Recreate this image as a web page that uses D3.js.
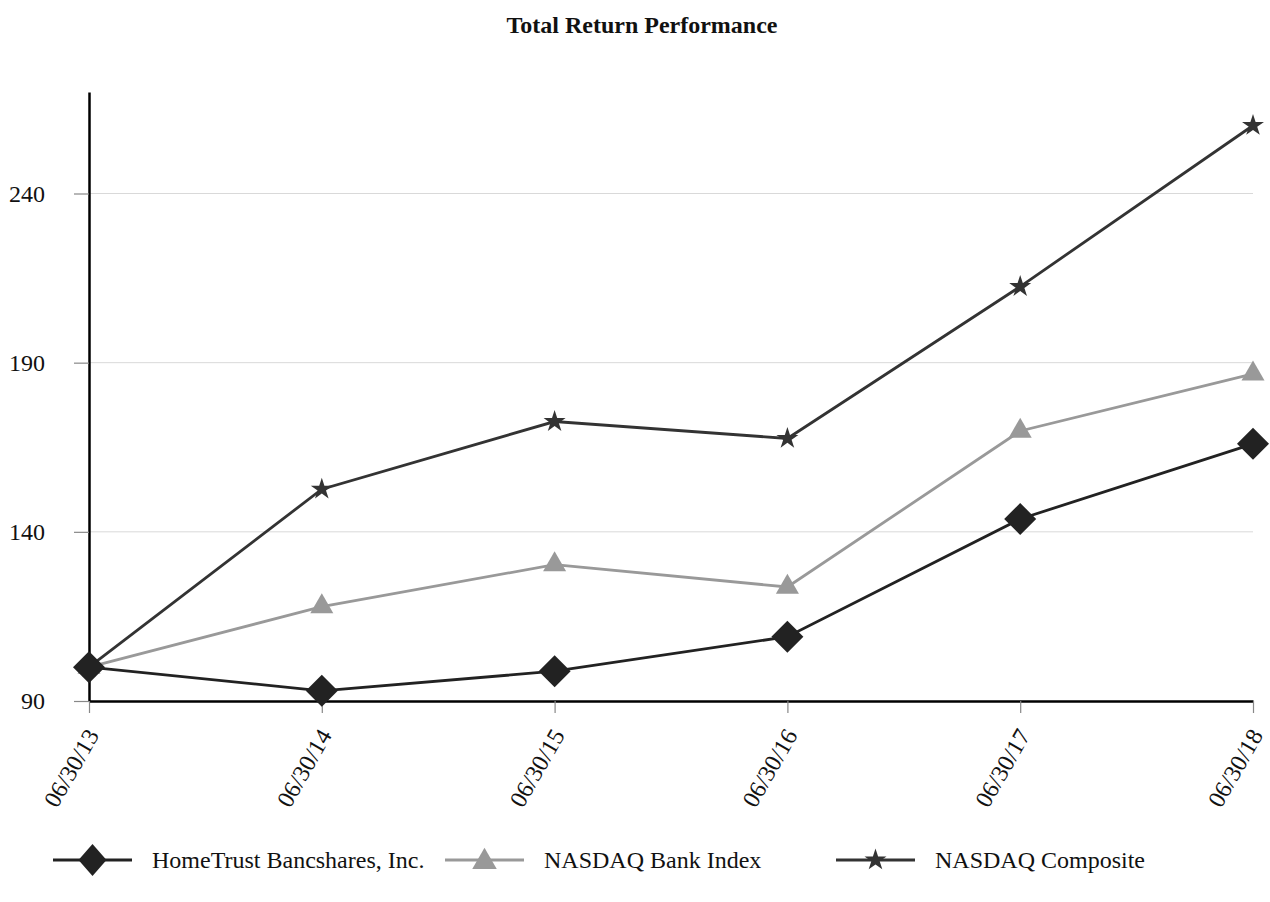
<!DOCTYPE html>
<html>
<head>
<meta charset="utf-8">
<script src="https://cdn.jsdelivr.net/npm/d3@7"></script>
<style>
  html, body { margin: 0; padding: 0; background: #fff; }
  svg text { font-family: "Liberation Serif", "Times New Roman", serif; }
</style>
</head>
<body>
<svg id="chart" width="1270" height="902"></svg>
<script>
const categories = ["06/30/13", "06/30/14", "06/30/15", "06/30/16", "06/30/17", "06/30/18"];
const homeTrust = [100, 93.0, 98.8, 109.0, 143.8, 166.0];
const nasdaqBank = [100, 117.9, 130.3, 123.7, 169.8, 186.7];
const nasdaqComposite = [100, 152.6, 172.6, 167.6, 212.5, 260.1];
const yTicks = [90, 140, 190, 240];
const seriesNames = ["HomeTrust Bancshares, Inc.", "NASDAQ Bank Index", "NASDAQ Composite"];

const svg = d3.select("#chart");

const x = d3.scalePoint().domain(categories).range([89, 1253]);
const y = d3.scaleLinear().domain([90, 270]).range([701, 92]);

// Title
svg.append("text")
  .attr("x", 642).attr("y", 33)
  .attr("text-anchor", "middle")
  .style("font-weight", "bold")
  .style("font-size", "24px")
  .attr("fill", "#111")
  .text("Total Return Performance");

// Gridlines
svg.append("g").selectAll("line")
  .data(yTicks.filter(v => v !== 90))
  .join("line")
  .attr("x1", 89).attr("x2", 1253)
  .attr("y1", d => y(d)).attr("y2", d => y(d))
  .attr("stroke", "#d9d9d9").attr("stroke-width", 1);

// Y axis
const yAxis = svg.append("g")
  .attr("transform", "translate(89,0)")
  .call(d3.axisLeft(y).tickValues(yTicks).tickSize(15).tickSizeOuter(0).tickPadding(29));
yAxis.select(".domain").attr("stroke", "#000").attr("stroke-width", 2.5);
yAxis.selectAll(".tick line").attr("stroke", "#888").attr("stroke-width", 1.2);
yAxis.selectAll(".tick text")
  .style("font-family", "'Liberation Serif', serif")
  .style("font-size", "24px").attr("fill", "#111");

// X axis
const xAxis = svg.append("g")
  .attr("transform", "translate(0,701)")
  .call(d3.axisBottom(x).tickSize(12).tickSizeOuter(0));
xAxis.select(".domain").attr("stroke", "#000").attr("stroke-width", 2.5);
xAxis.selectAll(".tick line").attr("stroke", "#888").attr("stroke-width", 1.2);
xAxis.selectAll(".tick text")
  .style("font-family", "'Liberation Serif', serif")
  .style("font-size", "24px").attr("fill", "#111")
  .attr("text-anchor", "end")
  .attr("x", 0).attr("y", 0)
  .attr("dy", "0.35em")
  .attr("transform", "translate(3,30) rotate(-60)");

// Series
const series = [
  { name: seriesNames[0], values: homeTrust, color: "#222222", marker: "diamond" },
  { name: seriesNames[1], values: nasdaqBank, color: "#999999", marker: "triangle" },
  { name: seriesNames[2], values: nasdaqComposite, color: "#333333", marker: "star" }
];

function markerPath(type, legend) {
  if (type === "diamond") {
    const hx = legend ? 14 : 16, hy = 16;
    return `M0,${-hy}L${hx},0L0,${hy}L${-hx},0Z`;
  }
  if (type === "triangle") return d3.symbol(d3.symbolTriangle, legend ? 260 : 230)();
  return d3.symbol(d3.symbolStar, 150)();
}

const line = d3.line().x((d, i) => x(categories[i])).y(d => y(d));

[series[1], series[2], series[0]].forEach(s => {
  svg.append("path")
    .attr("d", line(s.values))
    .attr("fill", "none")
    .attr("stroke", s.color)
    .attr("stroke-width", 2.8);
});
[series[1], series[2], series[0]].forEach(s => {
  svg.append("g").selectAll("path")
    .data(s.values)
    .join("path")
    .attr("d", markerPath(s.marker, false))
    .attr("transform", (d, i) => `translate(${x(categories[i])},${y(d)})`)
    .attr("fill", s.color);
});

// Legend
const legendX = [53, 445, 836];
const legendY = 860;
series.forEach((s, i) => {
  const g = svg.append("g").attr("transform", `translate(${legendX[i]},${legendY})`);
  g.append("line").attr("x1", 0).attr("x2", 79).attr("y1", 0).attr("y2", 0)
    .attr("stroke", s.color).attr("stroke-width", 3);
  g.append("path").attr("d", markerPath(s.marker, true))
    .attr("transform", `translate(39.5,${s.marker === "triangle" ? 2 : 0})`)
    .attr("fill", s.color);
  g.append("text").attr("x", 99).attr("y", 0).attr("dy", "0.35em")
    .style("font-size", "24px").attr("fill", "#111")
    .text(s.name);
});
</script>
</body>
</html>
